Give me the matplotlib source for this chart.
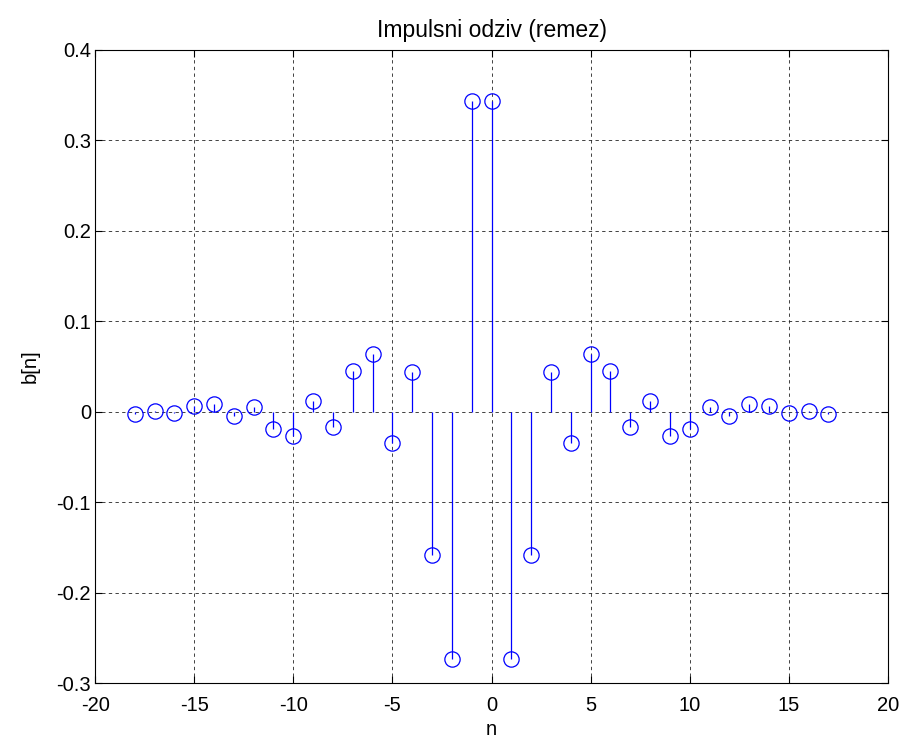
import matplotlib
matplotlib.use("Agg")
import matplotlib.pyplot as plt
import numpy as np

plt.rcParams.update({"font.family": ["Liberation Sans", "DejaVu Sans"],
                     "axes.unicode_minus": False})

# impulse response (remez), symmetric around n = -0.5
n = np.arange(-18, 18)
b_half = [-0.003, 0.001, -0.002, 0.006, 0.008, -0.005, 0.005, -0.019, -0.027,
          0.012, -0.017, 0.045, 0.064, -0.035, 0.044, -0.158, -0.274, 0.343]
b = np.array(b_half + b_half[::-1])

BLUE = "#0000FF"

fig = plt.figure(figsize=(9.06, 7.42), dpi=100)
ax = fig.add_axes([0.105, 0.0795, 0.875, 0.8535])

ax.vlines(n, 0, b, color=BLUE, lw=0.9)
ax.plot(n, b, "o", ms=11, mfc="none", mec=BLUE, mew=0.9, ls="none")

ax.set_xlim(-20, 20)
ax.set_ylim(-0.3, 0.4)
ax.set_xticks(np.arange(-20, 21, 5))
ax.set_yticks(np.arange(-0.3, 0.41, 0.1))
ax.set_yticklabels(["-0.3", "-0.2", "-0.1", "0", "0.1", "0.2", "0.3", "0.4"])
ax.grid(True, color="#222222", ls=(0, (4, 4)), lw=0.6)
ax.tick_params(direction="in", top=True, right=True, labelsize=14.5, length=5)
ax.tick_params(axis="x", pad=9)
ax.tick_params(axis="y", pad=3)
for s in ax.spines.values():
    s.set_linewidth(0.8)

ax.set_title("Impulsni odziv (remez)", fontsize=16.5, pad=9)
ax.set_xlabel("n", fontsize=14.5, labelpad=4)
ax.set_ylabel("b[n]", fontsize=14.5, labelpad=12)

fig.savefig("out.png", dpi=100)
